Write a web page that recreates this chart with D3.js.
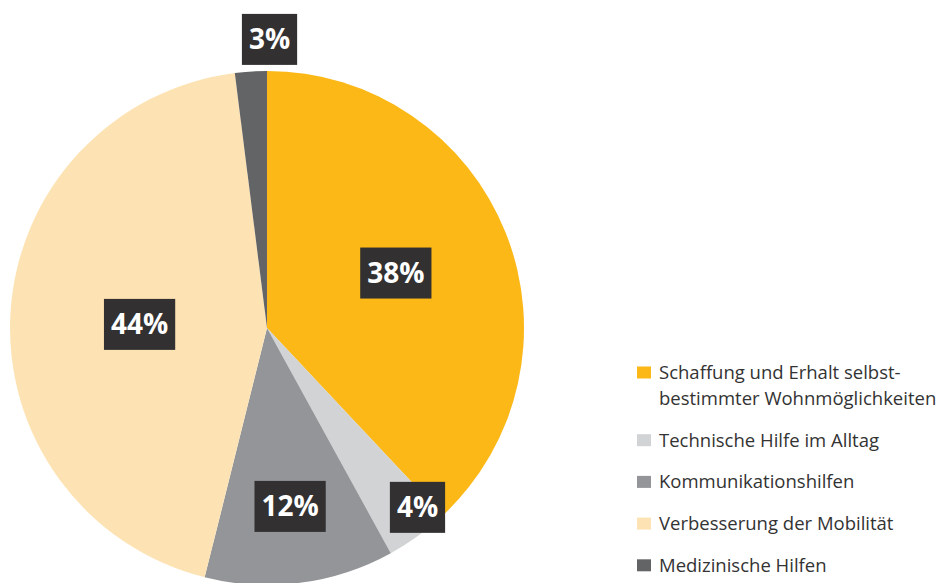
<!DOCTYPE html>
<html>
<head>
<meta charset="utf-8">
<script src="https://cdn.jsdelivr.net/npm/d3@7"></script>
<style>
  body { margin: 0; background: #fff; }
  svg { display: block; }
</style>
</head>
<body>
<div id="chart"></div>
<script>
// slices clockwise from 12 o'clock
let categories = [
  ['Schaffung und Erhalt selbst-', 'bestimmter Wohnmöglichkeiten'],
  ['Technische Hilfe im Alltag'],
  ['Kommunikationshilfen'],
  ['Verbesserung der Mobilität'],
  ['Medizinische Hilfen']
]
let values = [38.0, 4.0, 11.9, 44.1, 2.0]
let valueLabels = ['38%', '4%', '12%', '44%', '3%']
let colors = ['#fbb817', '#d1d3d4', '#939598', '#fde3b4', '#636466']

// label placement: fraction of radius and angle nudge (deg) from the mid angle
let labelRadius = [0.545, 0.911, 0.70, 0.496, 1.123]
let labelShift = [-1.5, -4, 0, -1.8, 4.1]

let width = 943, height = 583
let cx = 267, cy = 328, radius = 257

let svg = d3.select('#chart')
  .append('svg')
  .attr('width', width)
  .attr('height', height)

let pie = d3.pie().sort(null).value(d => d)
let arcs = pie(values)

let arc = d3.arc().innerRadius(0).outerRadius(radius)

let g = svg.append('g').attr('transform', 'translate(' + cx + ',' + cy + ')')

g.selectAll('path')
  .data(arcs)
  .enter().append('path')
    .attr('d', arc)
    .style('fill', (d, i) => colors[i])

// value labels in dark boxes
let labels = g.selectAll('.val')
  .data(arcs)
  .enter().append('g')
    .attr('class', 'val')
    .attr('transform', function (d, i) {
      let a = (d.startAngle + d.endAngle) / 2 + labelShift[i] * Math.PI / 180
      let r = labelRadius[i] * radius
      return 'translate(' + (r * Math.sin(a)) + ',' + (-r * Math.cos(a)) + ')'
    })

let boxes = labels.append('rect').style('fill', '#323031')

let texts = labels.append('text')
  .attr('y', 10)
  .style('text-anchor', 'middle')
  .style('font-family', '"Open Sans", sans-serif')
  .style('font-weight', 700)
  .style('font-size', '28px')
  .style('fill', '#ffffff')
  .text((d, i) => valueLabels[i])

texts.each(function (d, i) {
  let w = this.getComputedTextLength() + 14
  d3.select(this.parentNode).select('rect')
    .attr('x', -w / 2)
    .attr('y', -25.5)
    .attr('width', w)
    .attr('height', 51)
})

// legend
let legend = svg.append('g').attr('transform', 'translate(637,0)')
let baseline = 379
categories.forEach(function (lines, i) {
  let item = legend.append('g')
  item.append('rect')
    .attr('x', 0)
    .attr('y', baseline - 12.5)
    .attr('width', 14)
    .attr('height', 12)
    .style('fill', colors[i])
  let t = item.append('text')
    .attr('x', 22)
    .attr('y', baseline)
    .style('font-family', '"Open Sans", sans-serif')
    .style('font-size', '18.5px')
    .style('fill', '#333333')
  lines.forEach(function (line, j) {
    t.append('tspan')
      .attr('x', 22)
      .attr('y', baseline + j * 26)
      .text(line)
  })
  baseline += (lines.length - 1) * 26 + 41.7
})
</script>
</body>
</html>
